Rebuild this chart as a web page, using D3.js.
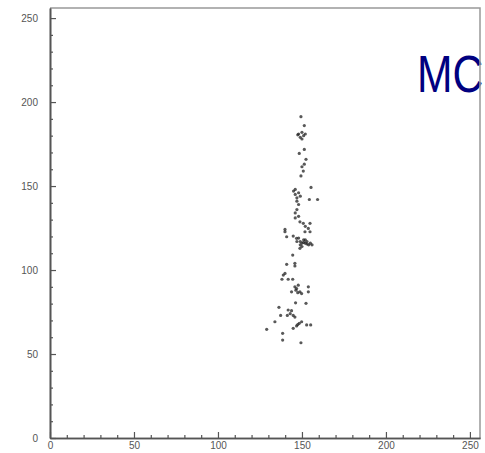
<!DOCTYPE html>
<html>
<head>
<meta charset="utf-8">
<script src="https://cdn.jsdelivr.net/npm/d3@7"></script>
<style>
  body { margin: 0; background: #fff; }
  svg { display: block; }
  .tick text { font-family: "Liberation Sans", Arial, sans-serif; font-size: 10px; fill: #555; }
</style>
</head>
<body>
<div id="chart"></div>
<script>
// hit positions
const hitsX = [
  149.4, 151.4, 148, 150, 151, 149, 152, 150, 147.5,
  151.4, 148.4, 152.4, 151.4, 150, 150.8, 149.4,
  145, 146, 147, 148, 147, 149, 148, 146,
  155.4, 154.4, 159.3,
  147, 146, 148, 146,
  148.8, 150.8, 154.8, 153.8, 152,
  139.9, 139.9, 140.9, 144.8, 146.8,
  148, 149, 150, 151, 152, 153, 154, 155, 156, 150, 152, 149, 147, 151, 153,
  151.8, 154.8,
  148.8, 144.5, 145.8, 145.8, 140.9,
  139.9, 138.9, 138.1, 141.8, 144.5,
  145.8, 147.8, 153.8,
  143.8, 146.4, 148.8, 149.8, 146.8, 147.5,
  153.8, 146.2, 152.4,
  136.3, 141.8, 143.8,
  137.3, 141.3, 144.8, 145.8, 143,
  148.4, 146.8, 144.8, 149.8, 147.5,
  152.8, 155.2, 133.9, 129, 138.5, 138.5, 149.4,
];
const hitsY = [
  191.3, 186, 181, 182, 180, 179, 181, 178, 180.5,
  171.8, 169.4, 165.9, 163, 161.5, 158.9, 156,
  147, 145, 143, 146, 141, 144, 139, 148,
  149.2, 142, 142,
  136, 134, 132, 131,
  128.7, 127.8, 127.8, 124.8, 126,
  124.2, 122.8, 119.8, 120.2, 118.9,
  119, 117, 116, 118, 116, 117, 115, 116, 115, 114, 118, 115, 117, 116.5, 115.5,
  122.8, 122.8,
  112.9, 108.9, 104, 102.4, 103.4,
  98, 97, 94.5, 94.5, 94.5,
  90, 91, 90,
  87, 88, 87, 86, 89, 86.5,
  87, 80.5, 80.2,
  77.8, 76.2, 75.8,
  73, 73, 73, 72, 74,
  68.3, 66.7, 65.3, 69.2, 67.5,
  67.3, 67.3, 69.2, 64.7, 62.3, 58.3, 56.7,
];
const majorTicks = [0, 50, 100, 150, 200, 250];
const minorTicks = d3.range(0, 256, 10).filter((d) => d % 50 !== 0);
const labelText = "MC";

const width = 485;
const height = 453;
const margin = { top: 8, right: 5, bottom: 15, left: 50 };

const svg = d3.select("#chart").append("svg").attr("width", width).attr("height", height);

const x = d3.scaleLinear().domain([0, 256]).range([margin.left, width - margin.right]);
const y = d3.scaleLinear().domain([0, 256]).range([height - margin.bottom, margin.top]);

// points
svg
  .append("g")
  .selectAll("circle")
  .data(hitsX.map((d, i) => ({ x: d, y: hitsY[i] })))
  .join("circle")
  .attr("cx", (d) => x(d.x))
  .attr("cy", (d) => y(d.y))
  .attr("r", 1.6)
  .attr("fill", "#222")
  .attr("fill-opacity", 0.75);

svg
  .append("text")
  .attr("transform", `translate(417, 92) scale(0.82, 1)`)
  .attr("font-family", "Liberation Sans, Arial, sans-serif")
  .attr("font-size", 52)
  .attr("fill", "#000080")
  .text(labelText);

// frame top/right
svg
  .append("path")
  .attr("d", `M${x(0)},${y(256)}H${x(256)}V${y(0)}`)
  .attr("fill", "none")
  .attr("stroke", "#999")
  .attr("stroke-width", 1.5);

function styleAxis(group) {
  group.select(".domain").attr("stroke", "#555").attr("stroke-width", 1.6);
  group.selectAll(".tick line").attr("stroke", "#555").attr("stroke-width", 1.2);
}

// x axis
svg
  .append("g")
  .attr("transform", `translate(0, ${y(0)})`)
  .call(d3.axisBottom(x).tickValues(minorTicks).tickSizeInner(-3).tickSizeOuter(0).tickFormat(""))
  .call(styleAxis);
svg
  .append("g")
  .attr("transform", `translate(0, ${y(0)})`)
  .call(d3.axisBottom(x).tickValues(majorTicks).tickSizeInner(-6).tickSizeOuter(0).tickPadding(4))
  .call(styleAxis);

// y axis
svg
  .append("g")
  .attr("transform", `translate(${x(0)}, 0)`)
  .call(d3.axisLeft(y).tickValues(minorTicks).tickSizeInner(-3).tickSizeOuter(0).tickFormat(""))
  .call(styleAxis);
svg
  .append("g")
  .attr("transform", `translate(${x(0)}, 0)`)
  .call(d3.axisLeft(y).tickValues(majorTicks).tickSizeInner(-6).tickSizeOuter(0).tickPadding(12))
  .call(styleAxis);
</script>
</body>
</html>
